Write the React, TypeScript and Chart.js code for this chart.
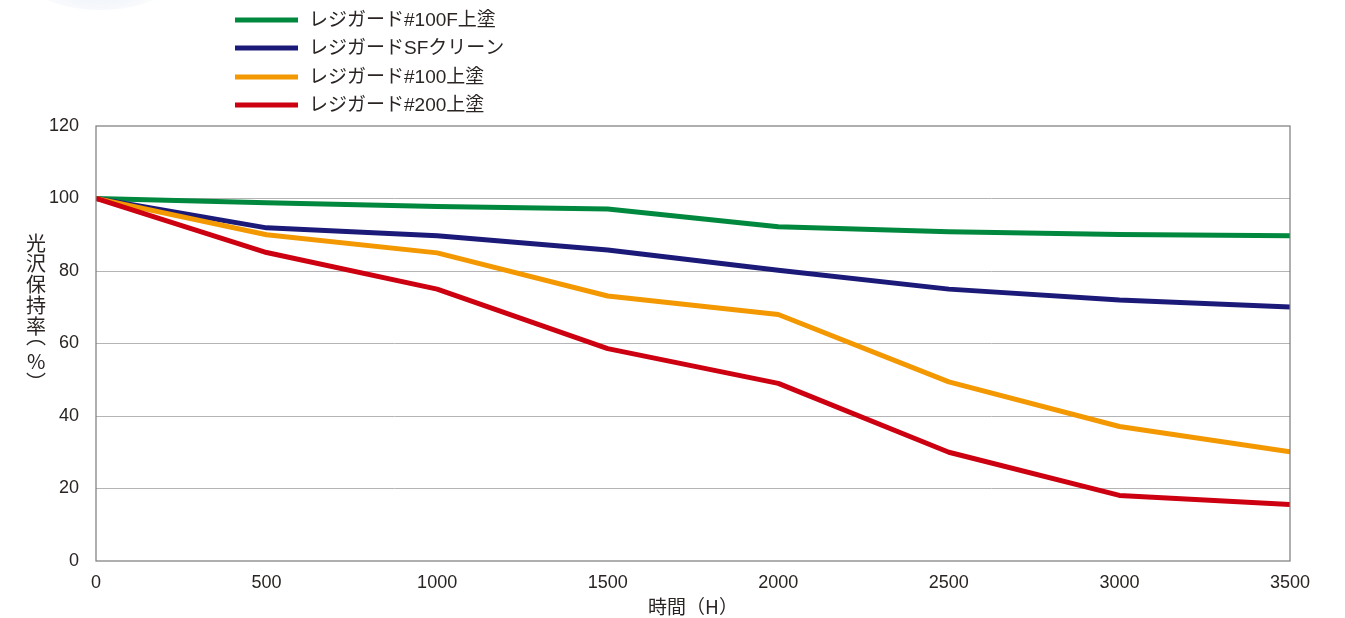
import React, { useEffect, useRef } from "react";
import { Chart, registerables } from "chart.js";

Chart.register(...registerables);

const hours = [0, 500, 1000, 1500, 2000, 2500, 3000, 3500];
const seriesNames = ["レジガード#100F上塗", "レジガードSFクリーン", "レジガード#100上塗", "レジガード#200上塗"];
const green100F = [100, 98.8, 97.8, 97.1, 92.2, 90.8, 90.1, 89.7];
const navySF = [100, 91.9, 89.7, 85.8, 80.2, 75.0, 72.0, 70.1];
const orange100 = [100, 90.0, 85.0, 73.1, 68.0, 49.4, 37.1, 30.1];
const red200 = [100, 85.1, 75.0, 58.6, 49.0, 30.0, 18.1, 15.6];
const seriesColors = ["#00893e", "#1c1a78", "#f39800", "#cc0010"];
const yTicks = [0, 20, 40, 60, 80, 100, 120];
const xTitle = "時間（H）";
const yTitleChars = ["光", "沢", "保", "持", "率", "︵", "%", "︶"];

const FONT = '"Noto Sans CJK JP", "Liberation Sans", sans-serif';
const MIX_FONT = '"Liberation Sans", "Noto Sans CJK JP", sans-serif';
const TEXT_COLOR = "#2a2523";

function centerText(ctx: any, s: string, cx: number, cy: number) {
  ctx.textAlign = "left";
  ctx.textBaseline = "alphabetic";
  const m = ctx.measureText(s);
  const w = m.actualBoundingBoxRight + m.actualBoundingBoxLeft;
  const h = m.actualBoundingBoxAscent + m.actualBoundingBoxDescent;
  const x = cx - w / 2 + m.actualBoundingBoxLeft;
  const y = cy - h / 2 + m.actualBoundingBoxAscent;
  ctx.fillText(s, x, y);
}

const decorPlugin = {
  id: "decor",
  beforeDraw(chart: any) {
    const ctx = chart.ctx;
    ctx.save();
    const g = ctx.createRadialGradient(100, -70, 40, 100, -70, 110);
    g.addColorStop(0, "rgba(225,232,242,0.9)");
    g.addColorStop(1, "rgba(240,244,250,0)");
    ctx.fillStyle = g;
    ctx.beginPath();
    ctx.ellipse(100, -70, 110, 80, 0, 0, Math.PI * 2);
    ctx.fill();
    ctx.restore();
  },
  afterDraw(chart: any) {
    const ctx = chart.ctx;
    const a = chart.chartArea;
    ctx.save();
    // frame
    ctx.strokeStyle = "#7a7a7a";
    ctx.lineWidth = 1.2;
    ctx.strokeRect(a.left, a.top, a.right - a.left, a.bottom - a.top);
    // y title (vertical, upright characters)
    ctx.fillStyle = TEXT_COLOR;
    ctx.font = `20px ${FONT}`;
    const ys = [243, 263, 284, 305, 326, 343, 361, 375];
    yTitleChars.forEach((c, i) => centerText(ctx, c, 36, ys[i]));
    // x title
    ctx.font = `19px ${FONT}`;
    ctx.textAlign = "center";
    ctx.textBaseline = "middle";
    ctx.fillText(xTitle, (a.left + a.right) / 2, 607);
    // legend
    ctx.textAlign = "left";
    ctx.font = `19px ${MIX_FONT}`;
    const rowY = [20, 48, 77, 105];
    seriesNames.forEach((n, i) => {
      ctx.strokeStyle = seriesColors[i];
      ctx.lineWidth = 5;
      ctx.beginPath();
      ctx.moveTo(235, rowY[i]);
      ctx.lineTo(298, rowY[i]);
      ctx.stroke();
      ctx.fillStyle = TEXT_COLOR;
      ctx.fillText(n, 309, rowY[i] + 1);
    });
    ctx.restore();
  },
};

export default function App() {
  const ref = useRef<HTMLCanvasElement>(null);
  useEffect(() => {
    if (!ref.current) return;
    const all = [green100F, navySF, orange100, red200];
    const chart = new Chart(ref.current, {
      type: "line",
      data: {
        datasets: all.map((vals, i) => ({
          label: seriesNames[i],
          data: hours.map((h, j) => ({ x: h, y: vals[j] })),
          borderColor: seriesColors[i],
          backgroundColor: seriesColors[i],
          borderWidth: 5,
          pointRadius: 0,
          tension: 0,
          borderJoinStyle: "round" as const,
        })).reverse(),
      },
      options: {
        animation: false,
        responsive: false,
        maintainAspectRatio: false,
        layout: { padding: { left: 36, right: 55, top: 126, bottom: 0 } },
        plugins: { legend: { display: false }, tooltip: { enabled: false } },
        scales: {
          x: {
            type: "linear",
            min: 0,
            max: 3500,
            afterBuildTicks: (s: any) => { s.ticks = hours.map((v) => ({ value: v })); },
            afterFit: (s: any) => { s.height = 57; },
            grid: { display: false, drawTicks: false },
            border: { display: false },
            ticks: {
              padding: 11,
              color: TEXT_COLOR,
              font: { family: MIX_FONT, size: 18 },
              maxRotation: 0,
              callback: (v: any) => String(v),
            },
          },
          y: {
            min: 0,
            max: 120,
            afterBuildTicks: (s: any) => { s.ticks = yTicks.map((v) => ({ value: v })); },
            afterFit: (s: any) => { s.width = 60; },
            grid: {
              drawTicks: false,
              color: (c: any) => (c.tick && (c.tick.value === 0 || c.tick.value === 120) ? "rgba(0,0,0,0)" : "#b4b4b4"),
              lineWidth: 1,
            },
            border: { display: false },
            ticks: { padding: 17, color: TEXT_COLOR, font: { family: MIX_FONT, size: 18 }, callback: (v: any) => String(v) },
          },
        },
      },
      plugins: [decorPlugin],
    } as any);
    return () => chart.destroy();
  }, []);
  return (
    <div style={{ position: "fixed", left: 0, top: 0, width: 1345, height: 618, background: "#fff" }}>
      <canvas ref={ref} width={1345} height={618} style={{ width: 1345, height: 618, display: "block" }} />
    </div>
  );
}
